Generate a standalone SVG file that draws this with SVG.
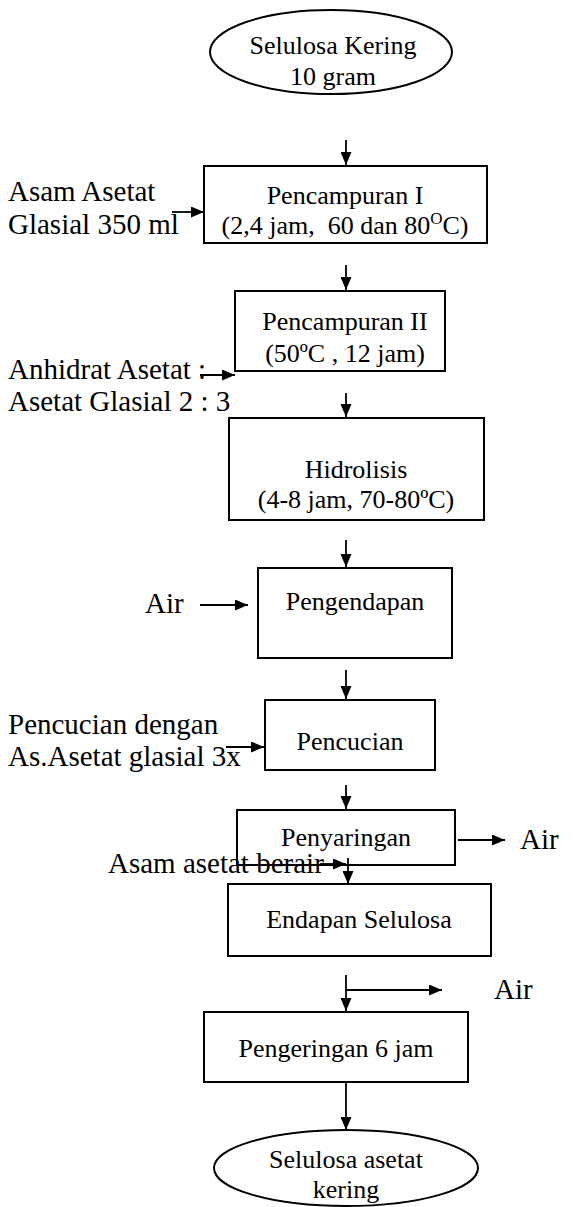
<svg xmlns="http://www.w3.org/2000/svg" width="588" height="1207" viewBox="0 0 588 1207">
<defs>
<marker id="ah" markerWidth="13" markerHeight="11" refX="13" refY="5.5" orient="auto" markerUnits="userSpaceOnUse">
<path d="M0,0 L13,5.5 L0,11 Z" fill="#000"/>
</marker>
<style>
text{font-family:"Liberation Serif","Times New Roman",serif;font-size:26px;fill:#000}
.l{font-size:29px}
.c{text-anchor:middle}
.n{fill:#fff;stroke:#000;stroke-width:2}
.a{stroke:#000;stroke-width:1.8;fill:none;marker-end:url(#ah)}
</style>
</defs>
<rect width="588" height="1207" fill="#fff"/>
<g id="n-start"><ellipse class="n" cx="331" cy="52" rx="121" ry="42"/>
<text class="c" x="333" y="54">Selulosa Kering</text><text class="c" x="333" y="85">10 gram</text></g>
<g id="n-mix1"><rect class="n" x="204" y="166" width="283" height="77"/>
<text class="c" x="345" y="204">Pencampuran I</text><text class="c" x="345" y="234" xml:space="preserve">(2,4 jam,  60 dan 80<tspan font-size="17" dy="-10">O</tspan><tspan dy="10">C)</tspan></text></g>
<g id="l-acid"><text class="l" x="8" y="201">Asam Asetat</text><text class="l" x="8" y="234">Glasial 350 ml</text></g>
<g id="n-mix2"><rect class="n" x="235" y="291" width="210" height="80"/>
<text class="c" x="345" y="330">Pencampuran II</text><text class="c" x="345" y="362">(50ºC , 12 jam)</text></g>
<g id="l-anh"><text class="l" x="8" y="379">Anhidrat Asetat :</text><text class="l" x="8" y="411">Asetat Glasial 2 : 3</text></g>
<g id="n-hyd"><rect class="n" x="229" y="418" width="255" height="102"/>
<text class="c" x="356" y="478">Hidrolisis</text><text class="c" x="356" y="508">(4-8 jam, 70-80ºC)</text></g>
<g id="n-pre"><rect class="n" x="258" y="568" width="194" height="90"/>
<text class="c" x="355" y="610">Pengendapan</text></g>
<g id="l-air1"><text class="l" x="145" y="613">Air</text></g>
<g id="n-wash"><rect class="n" x="265" y="700" width="170" height="70"/>
<text class="c" x="350" y="750">Pencucian</text></g>
<g id="l-wash"><text class="l" x="8" y="734">Pencucian dengan</text><text class="l" x="8" y="766">As.Asetat glasial 3x</text></g>
<g id="n-filt"><rect class="n" x="237" y="810" width="218" height="55"/>
<text class="c" x="346" y="846">Penyaringan</text></g>
<g id="l-air2"><text class="l" x="520" y="849">Air</text></g>
<g id="l-ber"><text class="l" x="108" y="873">Asam asetat berair</text></g>
<g id="n-end"><rect class="n" x="228" y="884" width="263" height="72"/>
<text class="c" x="359" y="928">Endapan Selulosa</text></g>
<g id="l-air3"><text class="l" x="494" y="999">Air</text></g>
<g id="n-dry"><rect class="n" x="204" y="1012" width="264" height="70"/>
<text class="c" x="336" y="1057">Pengeringan 6 jam</text></g>
<g id="n-final"><ellipse class="n" cx="346" cy="1168" rx="132" ry="38"/>
<text class="c" x="346" y="1168">Selulosa asetat</text><text class="c" x="346" y="1198">kering</text></g>
<g id="connectors">
<line class="a" x1="346" y1="140" x2="346" y2="165"/>
<line class="a" x1="172" y1="212" x2="204" y2="212"/>
<line class="a" x1="346" y1="265" x2="346" y2="290"/>
<line class="a" x1="200" y1="375" x2="235" y2="375"/>
<line class="a" x1="346" y1="393" x2="346" y2="417"/>
<line class="a" x1="346" y1="540" x2="346" y2="567"/>
<line class="a" x1="200" y1="605" x2="248" y2="605"/>
<line class="a" x1="346" y1="670" x2="346" y2="699"/>
<line class="a" x1="226" y1="747" x2="264" y2="747"/>
<line class="a" x1="346" y1="785" x2="346" y2="809"/>
<line class="a" x1="458" y1="840" x2="505" y2="840"/>
<line class="a" x1="320" y1="864" x2="346" y2="864"/>
<line class="a" x1="348" y1="858" x2="348" y2="884"/>
<line class="a" x1="346" y1="975" x2="346" y2="1011"/>
<line class="a" x1="346" y1="990" x2="442" y2="990"/>
<line class="a" x1="346" y1="1082" x2="346" y2="1130"/>
</g>
</svg>
